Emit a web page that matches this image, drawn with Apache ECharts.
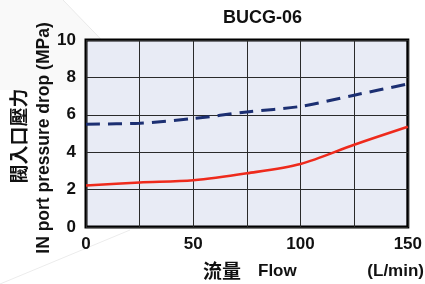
<!DOCTYPE html>
<html>
<head>
<meta charset="utf-8">
<script src="https://cdn.jsdelivr.net/npm/echarts@6/dist/echarts.min.js"></script>
<style>html,body{margin:0;padding:0;background:#fff}#c{width:425px;height:284px}</style>
</head>
<body>
<div id="c"></div>
<script>
var chartTitle = 'BUCG-06';
var flow = [0, 25, 50, 75, 100, 125, 150];
var pressureDashed = [5.5, 5.55, 5.8, 6.15, 6.45, 7.05, 7.65];
var pressureRed = [2.22, 2.38, 2.5, 2.87, 3.37, 4.4, 5.36];
var xTickLabels = [0, 50, 100, 150];
var yTickLabels = [0, 2, 4, 6, 8, 10];
var yNameZh = '閥入口壓力';
var yNameEn = 'IN port pressure drop (MPa)';
var xNameZh = '流量';
var xNameEn = 'Flow';
var xUnit = '(L/min)';

var font = '"Liberation Sans", Arial, sans-serif';
var cjk = '"Noto Sans CJK TC", "Noto Sans CJK SC", sans-serif';

function pairs(xs, ys) { return xs.map(function (x, i) { return [x, ys[i]]; }); }

var chart = echarts.init(document.getElementById('c'), null, { renderer: 'canvas' });
chart.setOption({
  backgroundColor: '#ffffff',
  animation: false,
  grid: { left: 86, right: 13, top: 40, bottom: 57, show: true, backgroundColor: '#e8ebf5', borderColor: '#000', borderWidth: 3, z: 0 },
  xAxis: {
    type: 'value', min: 0, max: 150, interval: 25,
    axisLine: { show: false }, axisTick: { show: false },
    splitLine: { show: true, lineStyle: { color: '#2a2a2a', width: 1 } },
    axisLabel: {
      margin: 9, fontSize: 17, fontWeight: 'bold', color: '#111', fontFamily: font,
      formatter: function (v) { return xTickLabels.indexOf(v) >= 0 ? String(v) : ''; }
    }
  },
  yAxis: {
    type: 'value', min: 0, max: 10, interval: 2,
    axisLine: { show: false }, axisTick: { show: false },
    splitLine: { show: true, lineStyle: { color: '#2a2a2a', width: 1 } },
    axisLabel: {
      margin: 10, fontSize: 17, fontWeight: 'bold', color: '#111', fontFamily: font,
      formatter: function (v) { return yTickLabels.indexOf(v) >= 0 ? String(v) : ''; }
    }
  },
  series: [
    {
      type: 'line', data: pairs(flow, pressureDashed), smooth: 0.3, symbol: 'none',
      lineStyle: { color: '#1c2f72', width: 3, type: [14, 8] }, z: 3
    },
    {
      type: 'line', data: pairs(flow, pressureRed), smooth: 0.3, symbol: 'none',
      lineStyle: { color: '#ee2a1c', width: 2.6 }, z: 3
    }
  ],
  graphic: [
    { type: 'polygon', z: -10, silent: true, shape: { points: [[0,0],[63,0],[150,90],[0,90]] }, style: { fill: 'rgba(0,0,0,0.025)' } },
    { type: 'line', z: -9, silent: true, shape: { x1: 63, y1: 0, x2: 150, y2: 90 }, style: { stroke: 'rgba(0,0,0,0.08)', lineWidth: 1 } },
    { type: 'line', z: -9, silent: true, shape: { x1: 0, y1: 284, x2: 130, y2: 230 }, style: { stroke: 'rgba(0,0,0,0.08)', lineWidth: 1 } },
    { type: 'text', left: 223, top: 9, style: { text: chartTitle, font: 'bold 18px ' + font, fill: '#111' } },
    { type: 'text', x: 19, y: 136, rotation: Math.PI / 2, style: { text: yNameZh, font: 'bold 19px ' + cjk, fill: '#111', textAlign: 'center', textVerticalAlign: 'middle' } },
    { type: 'text', x: 44, y: 138, rotation: Math.PI / 2, style: { text: yNameEn, font: 'bold 17.5px ' + font, fill: '#111', textAlign: 'center', textVerticalAlign: 'middle' } },
    { type: 'text', x: 203, y: 271, style: { text: xNameZh, font: 'bold 19px ' + cjk, fill: '#111', textAlign: 'left', textVerticalAlign: 'middle' } },
    { type: 'text', x: 258, y: 271, style: { text: xNameEn, font: 'bold 17px ' + font, fill: '#111', textAlign: 'left', textVerticalAlign: 'middle' } },
    { type: 'text', x: 424, y: 271, style: { text: xUnit, font: 'bold 17px ' + font, fill: '#111', textAlign: 'right', textVerticalAlign: 'middle' } }
  ]
});
</script>
</body>
</html>
